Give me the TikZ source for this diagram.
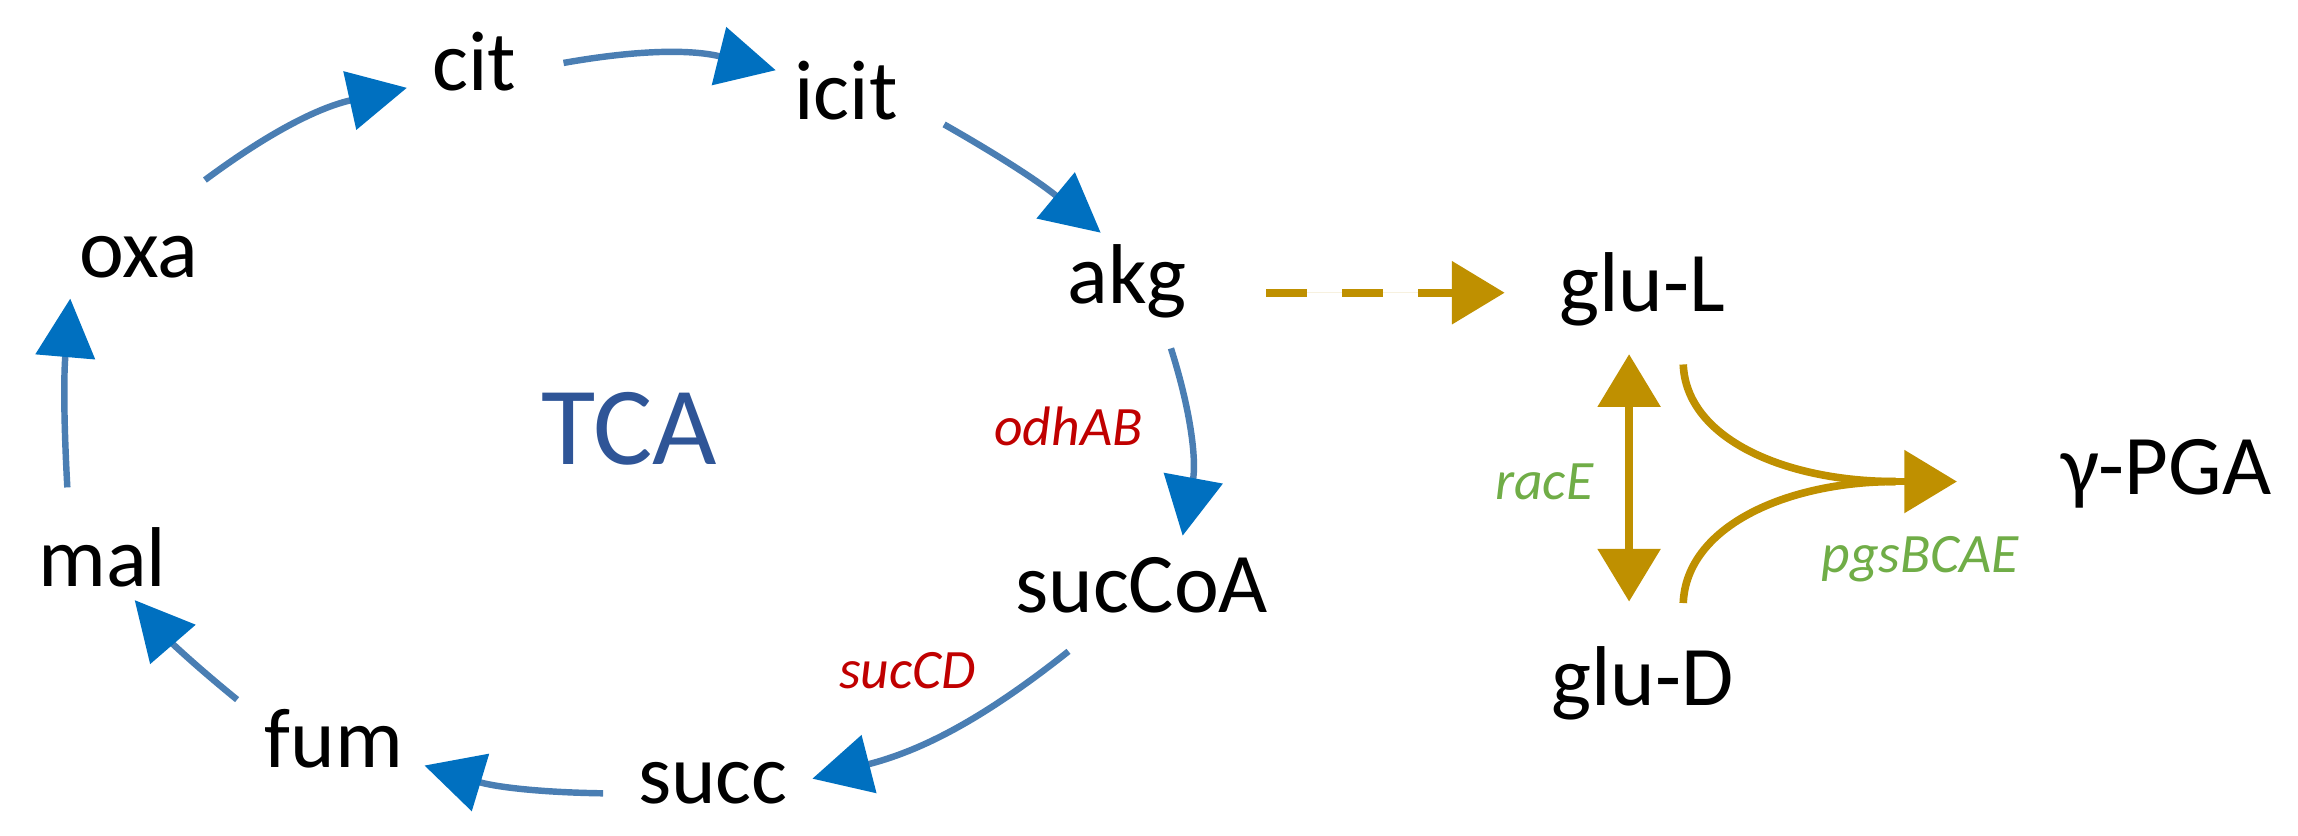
\documentclass[tikz,border=0pt]{standalone}
\usepackage{fontspec}
\setmainfont{Carlito}
\usetikzlibrary{arrows.meta}
\definecolor{tcal}{HTML}{4A7EB3}
\definecolor{tcah}{HTML}{0070C0}
\definecolor{tcat}{HTML}{2F5597}
\definecolor{gold}{HTML}{BF9000}
\definecolor{enzr}{HTML}{C00000}
\definecolor{enzg}{HTML}{70AD47}
\begin{document}
\begin{tikzpicture}[x=0.5pt,y=-0.5pt,
  met/.style={font=\fontsize{29}{32}\selectfont,inner sep=0pt},
  enz/.style={font=\fontsize{19}{22}\selectfont\itshape,inner sep=0pt},
  blu/.style={draw=tcal,line width=2.2pt,-{Triangle[length=20pt,width=20pt,color=tcah]}},
  gld/.style={draw=gold,line width=2.6pt},
  gtip/.style={-{Triangle[length=18pt,width=21pt]}}]
\useasboundingbox (0,0) rectangle (1570,571);
\node[met] (cit) at (324,42) {cit};
\node[met] (icit) at (578,62) {icit};
\node[met] (akg) at (770,192) {akg};
\node[met] (gluL) at (1122,198) {glu-L};
\node[met] (oxa) at (95,176) {oxa};
\node[met] (mal) at (70,381) {mal};
\node[met] (fum) at (228,505) {fum};
\node[met] (succ) at (487,535) {succ};
\node[met] (succoa) at (780,400) {sucCoA};
\node[met] (gluD) at (1122,467) {glu-D};
\node[met] (pga) at (1480,324) {γ-PGA};
\node[font=\fontsize{38}{42}\selectfont,text=tcat,inner sep=0pt] (tca) at (430,293) {TCA};
\node[enz,text=enzr] (odh) at (730,291) {odhAB};
\node[enz,text=enzr] (sucd) at (620,458) {sucCD};
\node[enz,text=enzg] (race) at (1055,329) {racE};
\node[enz,text=enzg] (pgs) at (1312,382) {pgsBCAE};
% free ends
\coordinate (a1) at (140,123); \coordinate (a2) at (278,60);
\coordinate (b1) at (385,43); \coordinate (b2) at (530,48);
\coordinate (c1) at (645,85); \coordinate (c2) at (752,159);
\coordinate (d1) at (800,238); \coordinate (d2) at (808,366);
\coordinate (e1) at (730,445); \coordinate (e2) at (555,532);
\coordinate (f1) at (412,542); \coordinate (f2) at (290,523);
\coordinate (g1) at (162,478); \coordinate (g2) at (92,410);
\coordinate (h1) at (46,333); \coordinate (h2) at (48,204);
\draw[blu] (a1) to[bend left=12] (a2);
\draw[blu] (b1) to[bend left=12] (b2);
\draw[blu] (c1) to[bend left=5] (c2);
\draw[blu] (d1) to[bend left=14] (d2);
\draw[blu] (e1) to[bend left=12] (e2);
\draw[blu] (f1) to[bend left=8] (f2);
\draw[blu] (g1) to[bend left=5] (g2);
\draw[blu] (h1) to[bend left=4] (h2);
% gold
\coordinate (k1) at (865,200); \coordinate (k2) at (1028,200);
\draw[gld,gtip,dash pattern=on 14pt off 12pt,fill=gold] (k1) -- (k2);
\coordinate (r1) at (1113,242); \coordinate (r2) at (1113,411);
\draw[gld,{Triangle[length=18pt,width=21pt]}-{Triangle[length=18pt,width=21pt]},fill=gold] (r1) -- (r2);
\coordinate (m1) at (1150,249); \coordinate (m2) at (1150,412);
\coordinate (tip) at (1337,329);
\draw[gld] (m1) .. controls (1152,300) and (1220,329) .. (1295,329);
\draw[gld] (m2) .. controls (1152,360) and (1220,329) .. (1295,329);
\draw[gld,gtip,fill=gold] (1290,329) -- (tip);
\end{tikzpicture}
\end{document}
